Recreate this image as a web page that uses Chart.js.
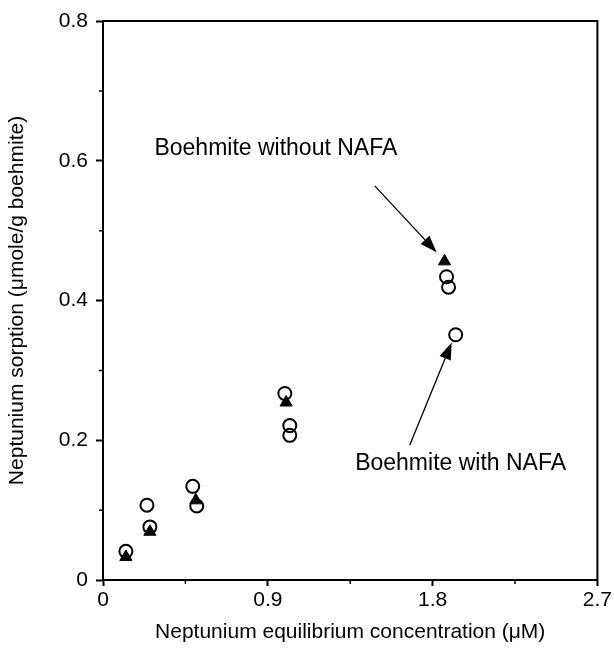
<!DOCTYPE html>
<html>
<head>
<meta charset="utf-8">
<script src="https://cdn.jsdelivr.net/npm/chart.js@4"></script>
<style>
  html, body { margin: 0; padding: 0; background: #fff; }
  #wrap { width: 614px; height: 651px; }
</style>
</head>
<body>
<div id="wrap"><canvas id="npChart" width="614" height="651"></canvas></div>
<script>
// Boehmite without NAFA (filled triangles)
const withoutX = [0.125, 0.256, 0.507, 1.0, 1.865];
const withoutY = [0.033, 0.069, 0.114, 0.254, 0.456];

// Boehmite with NAFA (open circles)
const withX = [0.125, 0.24, 0.256, 0.49, 0.512, 0.993, 1.02, 1.02, 1.876, 1.887, 1.926];
const withY = [0.041, 0.107, 0.076, 0.134, 0.106, 0.267, 0.221, 0.207, 0.434, 0.419, 0.351];

const xTicks = [0, 0.9, 1.8, 2.7];
const yTicks = [0, 0.2, 0.4, 0.6, 0.8];
const xMinor = [0.45, 1.35, 2.25];
const yMinor = [0.1, 0.3, 0.5, 0.7];

const labelFont = "'Liberation Sans', Arial, sans-serif";

// annotation text + arrows, in data units
const notes = [
  { text: "Boehmite without NAFA", tx: 0.944, ty: 0.618, from: [1.484, 0.564], to: [1.822, 0.469] },
  { text: "Boehmite with NAFA", tx: 1.953, ty: 0.166, from: [1.675, 0.193], to: [1.904, 0.340] },
];

function toPoints(xs, ys) {
  return xs.map((x, i) => ({ x: x, y: ys[i] }));
}

const extras = {
  id: "extras",
  afterDraw(chart) {
    const { ctx, chartArea: a, scales: { x, y } } = chart;
    ctx.save();
    ctx.strokeStyle = "#000";
    ctx.lineWidth = 2;
    ctx.strokeRect(a.left, a.top, a.right - a.left, a.bottom - a.top);

    // minor ticks
    ctx.lineWidth = 1.5;
    ctx.beginPath();
    xMinor.forEach((v) => {
      const px = x.getPixelForValue(v);
      ctx.moveTo(px, a.bottom);
      ctx.lineTo(px, a.bottom + 4);
    });
    yMinor.forEach((v) => {
      const py = y.getPixelForValue(v);
      ctx.moveTo(a.left, py);
      ctx.lineTo(a.left - 4, py);
    });
    ctx.stroke();

    // notes
    ctx.fillStyle = "#000";
    ctx.font = "23px " + labelFont;
    ctx.textAlign = "center";
    ctx.textBaseline = "middle";
    notes.forEach((n) => {
      ctx.fillText(n.text, x.getPixelForValue(n.tx), y.getPixelForValue(n.ty));
      const x1 = x.getPixelForValue(n.from[0]), y1 = y.getPixelForValue(n.from[1]);
      const x2 = x.getPixelForValue(n.to[0]), y2 = y.getPixelForValue(n.to[1]);
      const ang = Math.atan2(y2 - y1, x2 - x1);
      const len = 17, half = 6;
      const bx = x2 - len * Math.cos(ang), by = y2 - len * Math.sin(ang);
      ctx.lineWidth = 1.3;
      ctx.beginPath();
      ctx.moveTo(x1, y1);
      ctx.lineTo(bx, by);
      ctx.stroke();
      ctx.beginPath();
      ctx.moveTo(x2, y2);
      ctx.lineTo(bx + half * Math.sin(ang), by - half * Math.cos(ang));
      ctx.lineTo(bx - half * Math.sin(ang), by + half * Math.cos(ang));
      ctx.closePath();
      ctx.fill();
    });
    ctx.restore();
  },
};

new Chart(document.getElementById("npChart"), {
  type: "scatter",
  data: {
    datasets: [
      {
        label: "Boehmite without NAFA",
        data: toPoints(withoutX, withoutY),
        pointStyle: "triangle",
        pointRadius: 7,
        backgroundColor: "#000",
        borderColor: "#000",
        borderWidth: 1,
      },
      {
        label: "Boehmite with NAFA",
        data: toPoints(withX, withY),
        pointStyle: "circle",
        pointRadius: 6.5,
        backgroundColor: "rgba(255,255,255,0)",
        borderColor: "#000",
        borderWidth: 2,
      },
    ],
  },
  plugins: [extras],
  options: {
    responsive: false,
    animation: false,
    layout: { padding: { top: 21, right: 16, left: 0, bottom: 0 } },
    plugins: { legend: { display: false }, tooltip: { enabled: false } },
    scales: {
      x: {
        type: "linear",
        min: 0,
        max: 2.7,
        afterFit: (s) => { s.height = 71; },
        afterBuildTicks: (s) => { s.ticks = xTicks.map((v) => ({ value: v })); },
        border: { display: true, color: "#000", width: 2 },
        grid: { drawOnChartArea: false, drawTicks: true, tickLength: 6, tickColor: "#000", tickWidth: 2 },
        ticks: {
          color: "#000",
          font: { family: labelFont, size: 21 },
          padding: 2,
          maxRotation: 0,
          callback: (v) => (v === 0 ? "0" : v.toFixed(1)),
        },
        title: {
          display: true,
          text: "Neptunium equilibrium concentration (μM)",
          color: "#000",
          font: { family: labelFont, size: 21 },
          padding: { top: 0, bottom: 6 },
        },
      },
      y: {
        type: "linear",
        min: 0,
        max: 0.8,
        afterFit: (s) => { s.width = 103; },
        afterBuildTicks: (s) => { s.ticks = yTicks.map((v) => ({ value: v })); },
        border: { display: true, color: "#000", width: 2 },
        grid: { drawOnChartArea: false, drawTicks: true, tickLength: 7, tickColor: "#000", tickWidth: 2 },
        ticks: {
          color: "#000",
          font: { family: labelFont, size: 21 },
          padding: 8,
          callback: (v) => (v === 0 ? "0" : v.toFixed(1)),
        },
        title: {
          display: true,
          text: "Neptunium sorption (μmole/g boehmite)",
          color: "#000",
          font: { family: labelFont, size: 21 },
          padding: { top: 5, bottom: 0 },
        },
      },
    },
  },
});
</script>
</body>
</html>
